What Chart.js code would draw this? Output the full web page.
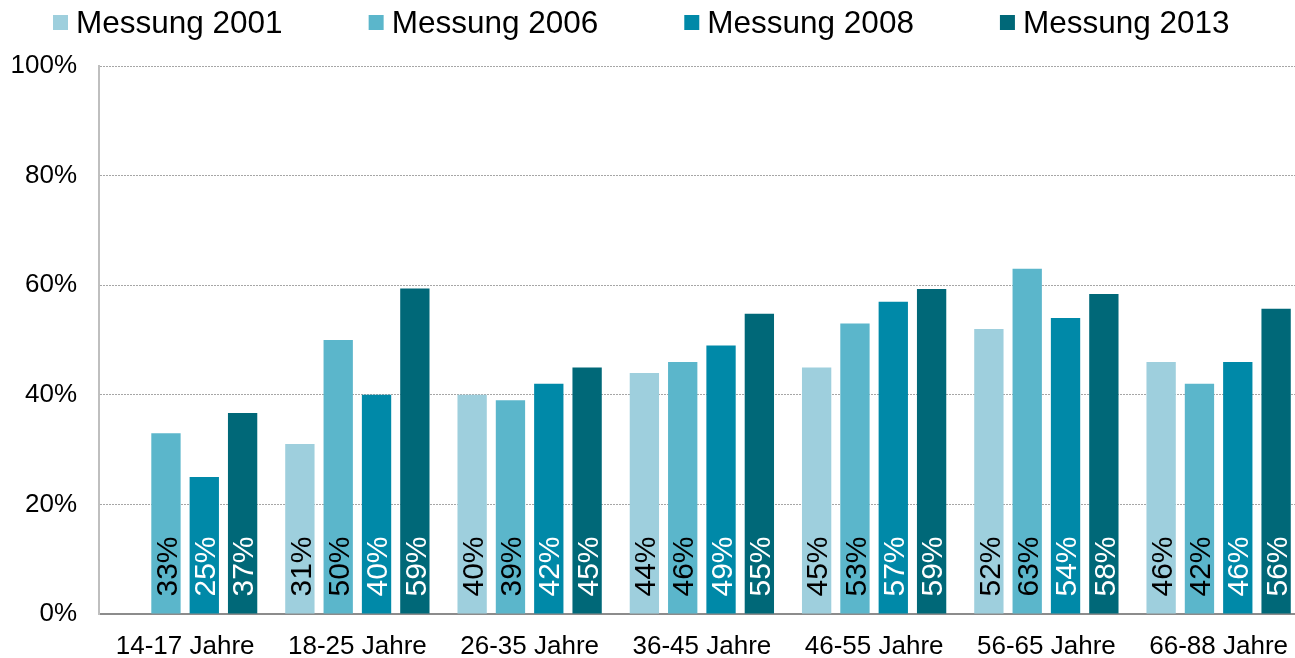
<!DOCTYPE html>
<html>
<head>
<meta charset="utf-8">
<script src="https://cdn.jsdelivr.net/npm/chart.js@4/dist/chart.umd.min.js"></script>
<style>
  html, body { margin: 0; padding: 0; background: #fff; overflow: hidden; }
  #wrap { width: 1305px; height: 658px; }
</style>
</head>
<body>
<div id="wrap"><canvas id="c" width="1305" height="658"></canvas></div>
<script>
// ---- data ----
const categories = ['14-17 Jahre', '18-25 Jahre', '26-35 Jahre', '36-45 Jahre', '46-55 Jahre', '56-65 Jahre', '66-88 Jahre'];
const seriesNames = ['Messung 2001', 'Messung 2006', 'Messung 2008', 'Messung 2013'];
const m2001 = [null, 31, 40, 44, 45, 52, 46];
const m2006 = [33, 50, 39, 46, 53, 63, 42];
const m2008 = [25, 40, 42, 49, 57, 54, 46];
const m2013 = [36.7, 59.4, 45, 54.8, 59.3, 58.4, 55.7];
const yTicks = [0, 20, 40, 60, 80, 100];

// ---- styles ----
const colors = ['#9ecfdd', '#5bb6cb', '#0089a8', '#006878'];
const labelColors = ['#000000', '#000000', '#ffffff', '#ffffff'];
const FONT = '"Liberation Sans", Arial, sans-serif';

const valueLabels = {
  id: 'valueLabels',
  afterDatasetsDraw(chart) {
    const ctx = chart.ctx;
    chart.data.datasets.forEach((ds, i) => {
      const meta = chart.getDatasetMeta(i);
      meta.data.forEach((bar, j) => {
        const v = ds.data[j];
        if (v === null || v === undefined) return;
        ctx.save();
        ctx.translate(bar.x, bar.base - 17);
        ctx.rotate(-Math.PI / 2);
        ctx.font = '30px ' + FONT;
        ctx.fillStyle = labelColors[i];
        ctx.textAlign = 'left';
        ctx.textBaseline = 'alphabetic';
        ctx.fillText(Math.round(v) + '%', 0, 10.7);
        ctx.restore();
      });
    });
  }
};

const topLegend = {
  id: 'topLegend',
  afterDraw(chart) {
    const ctx = chart.ctx;
    const box = 15, boxTop = 15, textGap = 8, itemGap = 86, baseline = 33;
    let x = 53;
    ctx.save();
    ctx.font = '31.5px ' + FONT;
    ctx.textAlign = 'left';
    ctx.textBaseline = 'alphabetic';
    chart.data.datasets.forEach(ds => {
      ctx.fillStyle = ds.backgroundColor;
      ctx.fillRect(x, boxTop, box, box);
      ctx.fillStyle = '#000';
      ctx.fillText(ds.label, x + box + textGap, baseline);
      x += box + textGap + ctx.measureText(ds.label).width + itemGap;
    });
    ctx.restore();
  }
};

const seriesData = [m2001, m2006, m2008, m2013];

new Chart(document.getElementById('c'), {
  type: 'bar',
  data: {
    labels: categories,
    datasets: seriesNames.map((name, i) => ({
      label: name,
      data: seriesData[i],
      backgroundColor: colors[i],
      borderWidth: 0,
      categoryPercentage: 0.89,
      barPercentage: 0.765
    }))
  },
  options: {
    responsive: false,
    devicePixelRatio: 1,
    animation: false,
    layout: { padding: { top: 66, left: 0, right: 0, bottom: 0 } },
    plugins: {
      legend: { display: false },
      tooltip: { enabled: false }
    },
    scales: {
      x: {
        grid: { display: false, drawTicks: false },
        border: { display: true, color: '#8c8c8c', width: 2 },
        ticks: { color: '#000', font: { family: FONT, size: 26 }, padding: 17, maxRotation: 0 },
        afterFit(scale) { scale.height = 44; }
      },
      y: {
        min: 0,
        max: 100,
        afterBuildTicks(scale) { scale.ticks = yTicks.map(v => ({ value: v })); },
        grid: { color: '#a6a6a6', lineWidth: 1, drawTicks: false },
        border: { display: true, color: '#bfbfbf', width: 2, dash: [2, 1] },
        ticks: { color: '#000', font: { family: FONT, size: 26 }, padding: 22, callback: v => v + '%' },
        afterFit(scale) { scale.width = 99; }
      }
    }
  },
  plugins: [valueLabels, topLegend]
});
</script>
</body>
</html>
